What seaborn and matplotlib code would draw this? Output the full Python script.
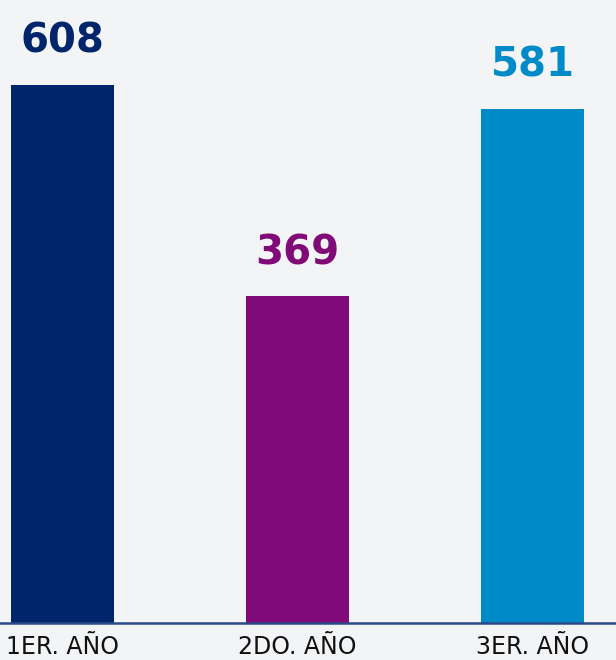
import matplotlib
matplotlib.use("Agg")
import matplotlib.pyplot as plt
import seaborn as sns
import pandas as pd

# datos
anios = ["1ER. AÑO", "2DO. AÑO", "3ER. AÑO"]
valores = [608, 369, 581]
colores = ["#00256a", "#7f0a78", "#008bc8"]

fondo = "#f2f4f6"

sns.set_style("white")
plt.rcParams["font.family"] = ["DejaVu Sans"]

df = pd.DataFrame({"anio": anios, "valor": valores})

fig = plt.figure(figsize=(6.16, 6.6), dpi=100, facecolor=fondo)
ax = fig.add_axes([0, 37 / 660, 1, 623 / 660])
ax.set_facecolor(fondo)

sns.barplot(data=df, x="anio", y="valor", hue="anio", palette=colores,
            width=0.438, legend=False, ax=ax, saturation=1, linewidth=0)

ax.set_xlim(-0.266, 2.355)
ax.set_ylim(0, 704)

for i, v in enumerate(valores):
    ax.text(i, v + 26, str(v), ha="center", va="bottom", color=colores[i],
            fontsize=29, fontweight="heavy")

for s in ["top", "right", "left"]:
    ax.spines[s].set_visible(False)
ax.spines["bottom"].set_color("#2a4a8a")
ax.spines["bottom"].set_linewidth(1.8)

ax.set_yticks([])
ax.set_xlabel("")
ax.set_ylabel("")
ax.tick_params(axis="x", length=0, pad=9, labelsize=17, labelcolor="#111111")

fig.savefig("out.png", dpi=100, facecolor=fondo)
